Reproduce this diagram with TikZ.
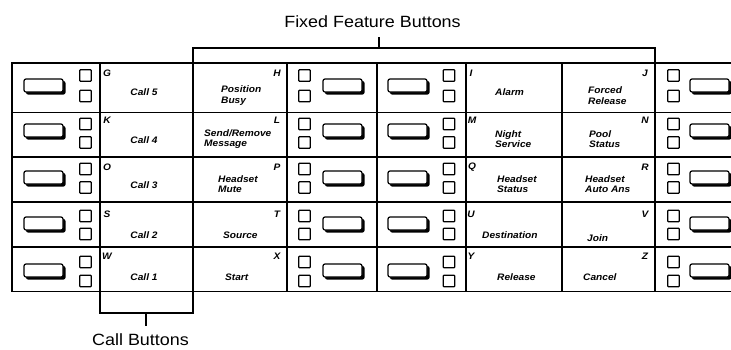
\documentclass[tikz,border=0pt]{standalone}
\usepackage{fontspec}
\setmainfont{Liberation Sans}[FakeStretch=1.1]
\newfontfamily\keyfont{Liberation Sans}[FakeStretch=1.08]

% large key with a drop shadow, centred at (#1,#2)
\newcommand\keycap[2]{%
  \fill[rounded corners=2pt] (#1-18,#2-5) rectangle (#1+21.5,#2+8.5);
  \draw[fill=white,line width=1.2pt,rounded corners=2pt] (#1-20,#2-7) rectangle (#1+19,#2+6);
}
% small lamp square centred at (#1,#2)
\newcommand\lamp[2]{%
  \draw[line width=1.2pt,rounded corners=0.8pt] (#1-5.8,#2-5.8) rectangle (#1+5.8,#2+5.8);
}

\begin{document}
\begin{tikzpicture}[x=1pt,y=-1pt,
  grid/.style={line width=1.8pt},
  brk/.style={line width=1.4pt},
  keytxt/.style={font=\keyfont\bfseries\itshape\fontsize{9.4}{10.5}\selectfont,inner sep=0pt,align=left},
  letter/.style={font=\keyfont\bfseries\itshape\fontsize{9.4}{10.5}\selectfont,inner sep=0pt},
  caption/.style={font=\fontsize{16.3}{18}\selectfont,inner sep=0pt}]
\useasboundingbox (0,0) rectangle (731,349);

% ---- grid ----
\draw[grid] (733,63) -- (12,63) -- (12,291.5) -- (733,291.5);
\foreach \y in {112.5,157,202,247}
  \draw[grid] (12,\y) -- (733,\y);
\foreach \x in {100,193,287,377,466,562,655}
  \draw[grid] (\x,63) -- (\x,291.5);

% ---- keys and lamps: {lamp A y, lamp B y, key y} per row ----
\foreach \ya/\yb/\yk in {75.5/96/86, 124/142.5/131, 169/187.5/178, 216/234/224, 262/281/271} {
  \keycap{44}{\yk}   \lamp{85.5}{\ya}  \lamp{85.5}{\yb}
  \keycap{343}{\yk}  \lamp{304.5}{\ya} \lamp{304.5}{\yb}
  \keycap{408}{\yk}  \lamp{449}{\ya}   \lamp{449}{\yb}
  \keycap{710}{\yk}  \lamp{673.5}{\ya} \lamp{673.5}{\yb}
}

% ---- row 1 ----
\node[letter] (kG) at (107,73) {G};
\node[keytxt] (lG) at (144,92) {Call 5};
\node[letter] (kH) at (277,73) {H};
\node[keytxt,anchor=west] (lH) at (221,95.5) {Position\\Busy};
\node[letter] (kI) at (471,73) {I};
\node[keytxt,anchor=west] (lI) at (495,92) {Alarm};
\node[letter] (kJ) at (645,73) {J};
\node[keytxt,anchor=west] (lJ) at (588,95.5) {Forced\\Release};

% ---- row 2 ----
\node[letter] (kK) at (107,120) {K};
\node[keytxt] (lK) at (144,140) {Call 4};
\node[letter] (kL) at (277,120) {L};
\node[keytxt,anchor=west] (lL) at (204,139) {Send/Remove\\Message};
\node[letter] (kM) at (472,120) {M};
\node[keytxt,anchor=west] (lM) at (495,139) {Night\\Service};
\node[letter] (kN) at (645,120) {N};
\node[keytxt,anchor=west] (lN) at (589,139) {Pool\\Status};

% ---- row 3 ----
\node[letter] (kO) at (107,167) {O};
\node[keytxt] (lO) at (144,185) {Call 3};
\node[letter] (kP) at (277,167) {P};
\node[keytxt,anchor=west] (lP) at (218,184) {Headset\\Mute};
\node[letter] (kQ) at (472,167) {Q};
\node[keytxt,anchor=west] (lQ) at (497,184) {Headset\\Status};
\node[letter] (kR) at (645,167) {R};
\node[keytxt,anchor=west] (lR) at (585,184) {Headset\\Auto Ans};

% ---- row 4 ----
\node[letter] (kS) at (107,214) {S};
\node[keytxt] (lS) at (144,235) {Call 2};
\node[letter] (kT) at (277,214) {T};
\node[keytxt,anchor=west] (lT) at (223,235) {Source};
\node[letter] (kU) at (471,214) {U};
\node[keytxt,anchor=west] (lU) at (482,235) {Destination};
\node[letter] (kV) at (645,214) {V};
\node[keytxt,anchor=west] (lV) at (587,238) {Join};

% ---- row 5 ----
\node[letter] (kW) at (107,256) {W};
\node[keytxt] (lW) at (144,277) {Call 1};
\node[letter] (kX) at (277,256) {X};
\node[keytxt,anchor=west] (lX) at (225,277) {Start};
\node[letter] (kY) at (471,256) {Y};
\node[keytxt,anchor=west] (lY) at (497,277) {Release};
\node[letter] (kZ) at (645,256) {Z};
\node[keytxt,anchor=west] (lZ) at (583,277) {Cancel};

% ---- brackets and captions ----
\node[caption,anchor=base] (ffb) at (372.5,27) {Fixed Feature Buttons};
\coordinate (ffbL) at (193,63);
\coordinate (ffbR) at (655,63);
\coordinate (ffbT) at (379,48);
\draw[brk] (ffbL) -- (ffbL |- ffbT) -- (ffbR |- ffbT) -- (ffbR);
\draw[brk] (ffbT) -- ++(0,-11);

\node[caption,anchor=base] (cb) at (140.5,345) {Call Buttons};
\coordinate (cbL) at (100,291.5);
\coordinate (cbR) at (193,291.5);
\coordinate (cbT) at (146,313);
\draw[brk] (cbL) -- (cbL |- cbT) -- (cbR |- cbT) -- (cbR);
\draw[brk] (cbT) -- ++(0,13);
\end{tikzpicture}
\end{document}
